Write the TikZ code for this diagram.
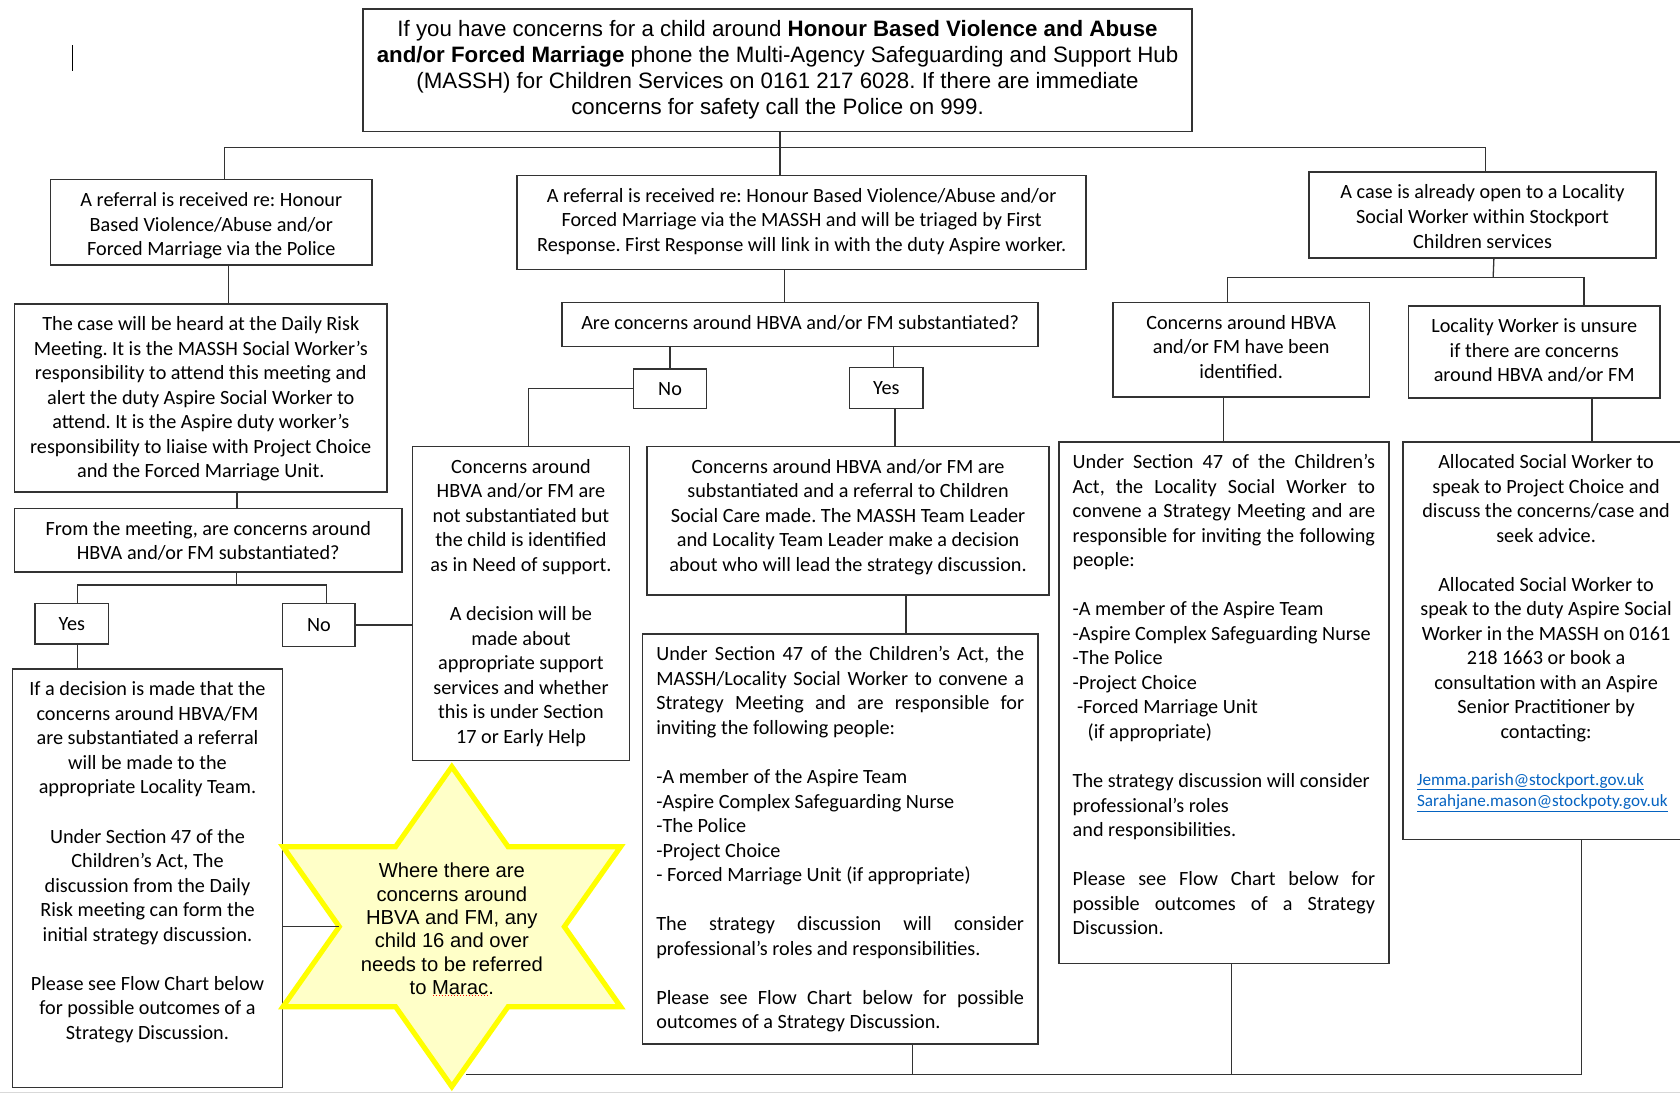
\documentclass[tikz,border=0pt]{standalone}
\usepackage{fontspec}
\setmainfont{Carlito}
\newfontfamily\arialfont{Liberation Sans}
\frenchspacing
\definecolor{boxline}{HTML}{333333}
\definecolor{linkblue}{HTML}{0563C1}
\definecolor{staredge}{HTML}{FFFF00}
\definecolor{starfill}{HTML}{FFFFC8}
\newcommand{\calibri}{\fontsize{18.87}{22.9}\selectfont}
\newcommand{\arialtext}{\arialfont\fontsize{20.8}{24}\selectfont}
\newcommand{\gap}{\par\vspace{\baselineskip}}
% centred and justified box texts, top aligned like the text boxes
\newcommand{\ctext}[4][25]{\parbox[t][#3pt][t]{\dimexpr#2pt-12pt\relax}{\centering\hyphenpenalty=10000\rule{0pt}{#1pt}#4}}
\newcommand{\jtext}[3]{\parbox[t][#2pt][t]{\dimexpr#1pt-26pt\relax}{\hyphenpenalty=10000\exhyphenpenalty=10000\rule{0pt}{25pt}#3}}
\begin{document}
\begin{tikzpicture}[x=1pt, y=-1pt,
    box/.style = {draw=boxline, line width=1.4pt, inner xsep=6pt, inner ysep=0pt, anchor=north west, font=\calibri},
    jbox/.style = {box, inner xsep=13pt},
    yn/.style = {box, minimum height=38pt, inner xsep=0pt},
    link/.style = {draw=boxline, line width=1.2pt},
    starline/.style = {draw=staredge, fill=starfill, line width=4.8pt}]
    \path[use as bounding box, fill=white] (0,0) rectangle (1568,1021);
    \draw[black!15, line width=1pt] (0,1020) -- (1568,1020);
    \draw[line width=1pt] (68,42) -- (68,66);

    % top row
    \node[box] (top) at (338,7.8) {\arialtext\ctext[26]{774}{114.2}{If you have concerns for a child around \textbf{Honour Based Violence and Abuse}\\ \textbf{and/or Forced Marriage} phone the Multi-Agency Safeguarding and Support Hub\\ (MASSH) for Children Services on 0161 217 6028. If there are immediate\\ concerns for safety call the Police on 999.}};
    \node[box] (police) at (46.5,167) {\ctext{300}{79.7}{A referral is received re: Honour\\ Based Violence/Abuse and/or\\ Forced Marriage via the Police}};
    \node[box] (massh) at (482,163) {\ctext{531}{88}{A referral is received re: Honour Based Violence/Abuse and/or\\ Forced Marriage via the MASSH and will be triaged by First\\ Response. First Response will link in with the duty Aspire worker.}};
    \node[box] (open) at (1221,160) {\ctext{324}{80}{A case is already open to a Locality\\ Social Worker within Stockport\\ Children services}};

    % police column
    \node[box] (riskmtg) at (12.8,283) {\ctext{347.8}{175.3}{The case will be heard at the Daily Risk\\ Meeting. It is the MASSH Social Worker's\\ responsibility to attend this meeting and\\ alert the duty Aspire Social Worker to\\ attend. It is the Aspire duty worker's\\ responsibility to liaise with Project Choice\\ and the Forced Marriage Unit.}};
    \node[box] (mtgq) at (12.8,473.8) {\ctext{361.7}{59.2}{From the meeting, are concerns around\\ HBVA and/or FM substantiated?}};
    \node[yn, minimum width=68.6pt] (yesA) at (32,562.5) {Yes};
    \node[yn, minimum width=67.8pt, minimum height=40pt] (noA) at (263,562.5) {No};
    \node[box] (locref) at (10.8,623.7) {\ctext{252.3}{390.5}{If a decision is made that the\\ concerns around HBVA/FM\\ are substantiated a referral\\ will be made to the\\ appropriate Locality Team.\gap
        Under Section 47 of the\\ Children's Act, The\\ discussion from the Daily\\ Risk meeting can form the\\ initial strategy discussion.\gap
        Please see Flow Chart below\\ for possible outcomes of a\\ Strategy Discussion.}};

    % MASSH column
    \node[box] (hbvaq) at (523.9,281.6) {\ctext{444.4}{41.3}{Are concerns around HBVA and/or FM substantiated?}};
    \node[yn, minimum width=68pt, minimum height=36.7pt] (noB) at (590.7,343.8) {No};
    \node[yn, minimum width=68.4pt] (yesB) at (792.3,342.5) {Yes};
    \node[box] (notsub) at (384.2,416) {\ctext{202.7}{293.3}{Concerns around\\ HBVA and/or FM are\\ not substantiated but\\ the child is identified\\ as in Need of support.\gap
        A decision will be\\ made about\\ appropriate support\\ services and whether\\ this is under Section\\ 17 or Early Help}};
    \node[box] (subst) at (603.2,416) {\ctext{375.3}{138.4}{Concerns around HBVA and/or FM are\\ substantiated and a referral to Children\\ Social Care made. The MASSH Team Leader\\ and Locality Team Leader make a decision\\ about who will lead the strategy discussion.}};
    \node[jbox] (smassh) at (598.9,591.1) {\jtext{369.2}{382.6}{Under Section 47 of the Children's Act, the\linebreak MASSH/Locality Social Worker to convene a\linebreak Strategy Meeting and are responsible for\linebreak inviting the following people:\gap
        -A member of the Aspire Team\\ -Aspire Complex Safeguarding Nurse\\ -The Police\\ -Project Choice\\ - Forced Marriage Unit (if appropriate)\gap
        The strategy discussion will consider\linebreak professional's roles and responsibilities.\gap
        Please see Flow Chart below for possible\linebreak outcomes of a Strategy Discussion.}};

    % locality column
    \node[box] (ident) at (1038.1,281.6) {\ctext{239.3}{88}{Concerns around HBVA\\ and/or FM have been\\ identified.}};
    \node[box] (unsure) at (1313.7,284.7) {\ctext{235.1}{86.1}{Locality Worker is unsure\\ if there are concerns\\ around HBVA and/or FM}};
    \node[jbox] (sloc) at (987.5,411.6) {\jtext{308.2}{486.9}{Under Section 47 of the Children's\linebreak Act, the Locality Social Worker to\linebreak convene a Strategy Meeting and are\linebreak responsible for inviting the following\linebreak people:\gap
        -A member of the Aspire Team\\ -Aspire Complex Safeguarding Nurse\\ -The Police\\ -Project Choice\\ \hspace*{4pt}-Forced Marriage Unit\\ \hspace*{14pt}(if appropriate)\gap
        The strategy discussion will consider\\ professional's roles\\ and responsibilities.\gap
        Please see Flow Chart below for\linebreak possible outcomes of a Strategy\linebreak Discussion.}};
    \node[box] (advice) at (1308.9,411.6) {\ctext{266.8}{371.4}{Allocated Social Worker to\\ speak to Project Choice and\\ discuss the concerns/case and\\ seek advice.\gap
        Allocated Social Worker to\\ speak to the duty Aspire Social\\ Worker in the MASSH on 0161\\ 218 1663 or book a\\ consultation with an Aspire\\ Senior Practitioner by\\ contacting:\par\vspace{24pt}
        {\raggedright\fontsize{16}{19.7}\selectfont\color{linkblue}\hspace*{7pt}\underline{Jemma.parish@stockport.gov.uk}\\ \hspace*{7pt}\underline{Sarahjane.mason@stockpoty.gov.uk}\par}}};

    % star
    \begin{scope}[shift={(421.7,864.9)}, xscale=1.2184]
        \filldraw[starline] (90:149.3) \foreach \a in {120,150,...,420} { -- (\a:{mod(\a,60)==0 ? 86.2 : 149.3}) } -- cycle;
        \coordinate (starL) at (180:86.2);
    \end{scope}
    \node[font=\arialfont\fontsize{18.87}{21.8}\selectfont, align=center] (marac) at (421.7,867) {Where there are\\ concerns around\\ HBVA and FM, any\\ child 16 and over\\ needs to be referred\\ to Marac.};
    \draw[red, line width=1pt, dash pattern=on 1.2pt off 1.6pt] (404.3,928.7) -- (456.5,928.7);

    % connectors
    \coordinate (jT) at (728,137.8);
    \coordinate (jE) at (220.5,546);
    \coordinate (jC) at (1393.6,258.8);
    \coordinate (jB) at (435.3,1003);
    \draw[link] (top.south -| jT) -- (massh.north -| jT);
    \draw[link] ([xshift=12.5pt]police.north) |- ([xshift=3pt]open.north |- jT) -- ([xshift=3pt]open.north);
    \draw[link] ([xshift=16.3pt]police.south) -- ([xshift=16.3pt]police.south |- riskmtg.north);
    \draw[link] ([xshift=33.8pt]riskmtg.south) -- ([xshift=33.8pt]riskmtg.south |- mtgq.north);
    \draw[link] (mtgq.south -| jE) -- (jE);
    \draw[link] ([xshift=5.3pt]yesA.north) -- ([xshift=5.3pt]yesA.north |- jE) -- ([xshift=6.8pt]noA.north |- jE) -- ([xshift=6.8pt]noA.north);
    \draw[link] ([xshift=5.3pt]yesA.south) -- ([xshift=5.3pt]yesA.south |- locref.north);
    \draw[link] (noA.east) -- (noA.east -| notsub.west);
    \draw[link] (starL -| locref.east) -- (starL);
    \draw[link] ([xshift=-16pt]massh.south) -- ([xshift=-16pt]massh.south |- hbvaq.north);
    \draw[link] (noB.north |- hbvaq.south) -- (noB.north);
    \draw[link] ([xshift=7pt]yesB.north |- hbvaq.south) -- ([xshift=7pt]yesB.north);
    \draw[link] (noB.west) -| ([xshift=6.9pt]notsub.north);
    \draw[link] ([xshift=8.2pt]yesB.south) -- ([xshift=8.2pt]yesB.south |- subst.north);
    \draw[link] ([xshift=54.1pt]subst.south) -- ([xshift=54.1pt]subst.south |- smassh.north);
    \draw[link] ([xshift=10.6pt]open.south) -- (jC);
    \draw[link] ([xshift=-12.8pt]ident.north) -- ([xshift=-12.8pt]ident.north |- jC) -- ([xshift=46.3pt]unsure.north |- jC) -- ([xshift=46.3pt]unsure.north);
    \draw[link] ([xshift=-16.6pt]ident.south) -- ([xshift=-16.6pt]ident.south |- sloc.north);
    \draw[link] ([xshift=53.8pt]unsure.south) -- ([xshift=53.8pt]unsure.south |- advice.north);
    \draw[link] ([xshift=67.7pt]smassh.south) -- ([xshift=67.7pt]smassh.south |- jB);
    \draw[link] ([xshift=7.4pt]sloc.south) -- ([xshift=7.4pt]sloc.south |- jB);
    \draw[link] ([xshift=33pt]advice.south) -- ([xshift=33pt]advice.south |- jB) -- (jB);
\end{tikzpicture}
\end{document}
